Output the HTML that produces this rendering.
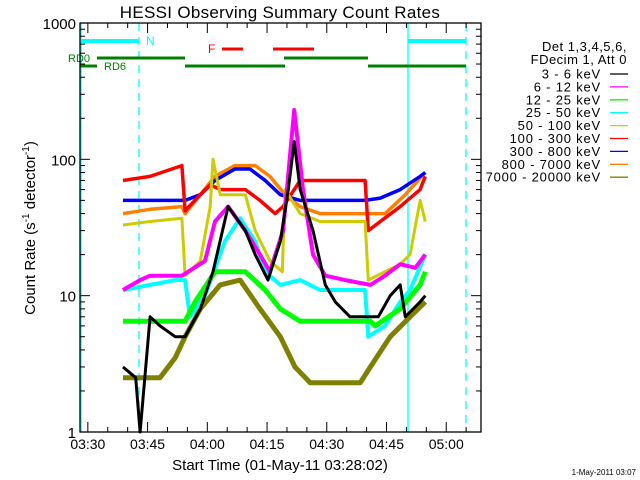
<!DOCTYPE html>
<html><head><meta charset="utf-8"><style>
html,body{margin:0;padding:0;background:#fff;}
svg{display:block;font-family:"Liberation Sans",sans-serif;}
</style></head><body>
<svg id="chart" width="640" height="480" viewBox="0 0 640 480" xmlns="http://www.w3.org/2000/svg">
<rect width="640" height="480" fill="#fff"/>
<text x="280" y="18" font-size="17" text-anchor="middle" letter-spacing="0.3">HESSI Observing Summary Count Rates</text>
<g id="plot"></g>
<g id="axes"></g>
<text x="280" y="470" font-size="15" text-anchor="middle">Start Time (01-May-11 03:28:02)</text>
<text transform="translate(35,228) rotate(-90)" font-size="15" text-anchor="middle">Count Rate (s<tspan dy="-6" font-size="10">-1</tspan><tspan dy="6"> detector</tspan><tspan dy="-6" font-size="10">-1</tspan><tspan dy="6">)</tspan></text>
<text x="636" y="475" font-size="8" text-anchor="end">1-May-2011 03:07</text>
<g id="legend"></g>
</svg>
<script>
// times in minutes since 03:28:02
const blackT=[10.8,14,15.1,17.6,20.1,23.9,26.4,30.2,33.4,37.2,41.5,44.0,47.2,50.3,52.3,53.8,55.3,58.5,61.6,64.1,67.8,71.6,74.9,77.9,80.4,81.7,85.4,86.7];
const blackV=[3,2.5,1,7,6,5,5,8,15,45,30,20,13,25,60,135,60,30,12,9,7,7,7,10,12,7,9,10];
const magT=[10.8,15.1,17.6,25.6,31.4,33.9,37.2,41.5,45.2,47.7,51.0,53.8,56.0,58.5,61.6,66.6,72.9,76.6,80.4,84.2,86.7];
const magV=[11,13,14,14,18,35,45,30,20,15,30,230,60,20,14,13,12,14,17,16,20];
const greenT=[10.8,26.4,28.9,33.9,41.5,46.5,50.3,55.3,72.9,74.1,80.4,85.4,86.7];
const greenV=[6.5,6.5,9,15,15,11,8,6.5,6.5,6,8,12,15];
const cyanT=[10.8,17.6,23.9,26.4,27.6,31.4,36.4,40.2,44.0,46.5,50.3,55.3,60.3,71.6,72.4,76.6,80.4,82.9,86.7];
const cyanV=[11,12,13,13,7,10,25,37,25,15,12,13,11,11,5,6,9,11,20];
const yellowT=[10.8,17.6,25.6,26.4,30.2,32.7,33.4,35.2,41.5,44.0,47.7,50.8,51.5,55.3,60.3,71.6,72.4,76.6,80.4,82.9,85.4,86.7];
const yellowV=[33,35,37,14,18,45,100,55,55,30,18,15,60,40,35,35,13,15,17,20,50,35];
const redT=[10.8,17.6,25.6,26.4,30.2,32.7,35.2,41.5,45.2,49.0,51.0,55.3,71.6,72.4,75.4,80.4,85.4,86.7];
const redV=[70,75,90,42,55,65,60,60,50,40,45,70,70,30,35,45,60,75];
const blueT=[10.8,26.4,30.2,33.9,38.9,42.7,46.5,50.3,55.3,71.6,75.4,80.4,85.4,86.7];
const blueV=[50,50,55,70,85,85,70,55,50,50,52,60,75,80];
const orangeT=[10.8,17.6,25.6,26.4,30.2,33.9,38.9,44.0,47.7,51.5,55.3,60.3,71.6,76.6,81.7,86.7];
const orangeV=[40,43,45,40,55,75,90,90,75,55,45,40,40,40,55,80];
const oliveT=[10.8,20.1,23.9,26.4,30.2,35.2,40.2,45.2,50.3,54.0,57.8,70.4,72.9,77.9,82.9,86.7];
const oliveV=[2.5,2.5,3.5,5,8,12,13,8,5,3,2.3,2.3,3,5,7,9];
const legendLabels=["3 - 6 keV","6 - 12 keV","12 - 25 keV","25 - 50 keV","50 - 100 keV","100 - 300 keV","300 - 800 keV","800 - 7000 keV","7000 - 20000 keV"];
const xTickLabels=["03:30","03:45","04:00","04:15","04:30","04:45","05:00"];
const xTickMinutes=[1.97,16.97,31.97,46.97,61.97,76.97,91.97];
const yTickValues=[1,10,100,1000];

const NS="http://www.w3.org/2000/svg";
const X0=80,X1=481,Y0=23,Y1=432,TMAX=100.7;
const xs=m=>X0+(m/TMAX)*(X1-X0);
const ys=v=>Y1-(Math.log10(v)/3)*(Y1-Y0);
function mk(tag,attrs,parent){const e=document.createElementNS(NS,tag);for(const k in attrs)e.setAttribute(k,attrs[k]);parent.appendChild(e);return e;}
const plot=document.getElementById('plot'),axes=document.getElementById('axes'),legend=document.getElementById('legend');

function seg(x1,x2,y,c,w,name){const l=mk('line',{x1:x1,x2:x2,y1:y,y2:y,stroke:c,'stroke-width':w},plot);}
function vl(x,c,dash,name){const l=mk('line',{x1:x,x2:x,y1:Y0,y2:Y1,stroke:c,'stroke-width':1.3},plot);if(dash)l.setAttribute('stroke-dasharray','8,6');}
vl(81,'#00ffff',false,'night-start-line');vl(139,'#00ffff',true,'night-end-line');vl(408,'#00ffff',false,'night2-start-line');vl(466,'#00ffff',true,'night2-end-line');
seg(81,139,41,'#00ffff',4,'night-bar');seg(408,466,41,'#00ffff',4,'night-bar-2');
seg(222,243,49,'#ff0000',3,'flare-bar');seg(273,314,49,'#ff0000',3,'flare-bar-2');
seg(97,185,58,'#008000',3,'rd0-bar');seg(284,368,58,'#008000',3,'rd0-bar-2');
seg(80,97,66,'#008000',3,'rd6-bar');seg(185,285,66,'#008000',3,'rd6-bar-2');seg(368,466,66,'#008000',3,'rd6-bar-3');
function lbl(x,y,t,c,name,size){const e=mk('text',{x:x,y:y,fill:c,'font-size':size||12},plot);e.textContent=t;}
lbl(146,45,'N','#00ffff','night-label');lbl(208,53,'F','#ff0000','flare-label');lbl(68,62,'RD0','#008000','rd0-label',11);lbl(104,70,'RD6','#008000','rd6-label',11);

const series=[[blackT,blackV,'#000000',3],[magT,magV,'#ff00ff',4],[greenT,greenV,'#00ff00',5],[cyanT,cyanV,'#00ffff',4],[yellowT,yellowV,'#cccc00',3],[redT,redV,'#ff0000',3.5],[blueT,blueV,'#0000ff',3.5],[orangeT,orangeV,'#ff8000',3.5],[oliveT,oliveV,'#808000',5]];
const order=[8,7,6,5,4,3,2,1,0];
order.forEach(i=>{const [T,V,c,w]=series[i];let d='';T.forEach((t,j)=>{d+=(j?'L':'M')+xs(t).toFixed(1)+','+ys(V[j]).toFixed(1);});
const p=mk('path',{d:d,fill:'none',stroke:c,'stroke-width':w,'stroke-linejoin':'round'},plot);

});

const box=mk('rect',{x:X0,y:Y0,width:X1-X0,height:Y1-Y0,fill:'none',stroke:'#000','stroke-width':1.3},axes);

for(let d=0;d<3;d++)for(let k=1;k<10;k++){const v=Math.pow(10,d)*k;const y=ys(v);const L=k===1?10:5;
mk('line',{x1:X0,x2:X0+L,y1:y,y2:y,stroke:'#000'},axes);mk('line',{x1:X1,x2:X1-L,y1:y,y2:y,stroke:'#000'},axes);}
mk('line',{x1:X0,x2:X0+10,y1:ys(1000),y2:ys(1000),stroke:'#000'},axes);
yTickValues.forEach(v=>{const t=mk('text',{x:X0-4,y:ys(v)+6,'font-size':15,'text-anchor':'end'},axes);t.textContent=String(v);
});
for(let m=1.97;m<TMAX;m+=5){const x=xs(m);const major=Math.abs(((m-1.97)/15)-Math.round((m-1.97)/15))<0.01;const L=major?10:5;
mk('line',{x1:x,x2:x,y1:Y1,y2:Y1-L,stroke:'#000'},axes);mk('line',{x1:x,x2:x,y1:Y0,y2:Y0+L,stroke:'#000'},axes);}
xTickLabels.forEach((s,i)=>{const t=mk('text',{x:xs(xTickMinutes[i]),y:449,'font-size':14,'text-anchor':'middle'},axes);t.textContent=s;
});

const h1=mk('text',{x:627,y:51,'font-size':13,'text-anchor':'end','letter-spacing':0.5},legend);h1.textContent='Det 1,3,4,5,6,';
const h2=mk('text',{x:627,y:64,'font-size':13,'text-anchor':'end','letter-spacing':0.5},legend);h2.textContent='FDecim 1, Att 0';
legendLabels.forEach((s,i)=>{const y=74+i*12.9;
const t=mk('text',{x:601,y:y+4.5,'font-size':13,'text-anchor':'end','letter-spacing':0.8},legend);t.textContent=s;

const l=mk('line',{x1:610,x2:628,y1:y,y2:y,stroke:series[i][2],'stroke-width':1.3},legend);
});
</script>
</body></html>
